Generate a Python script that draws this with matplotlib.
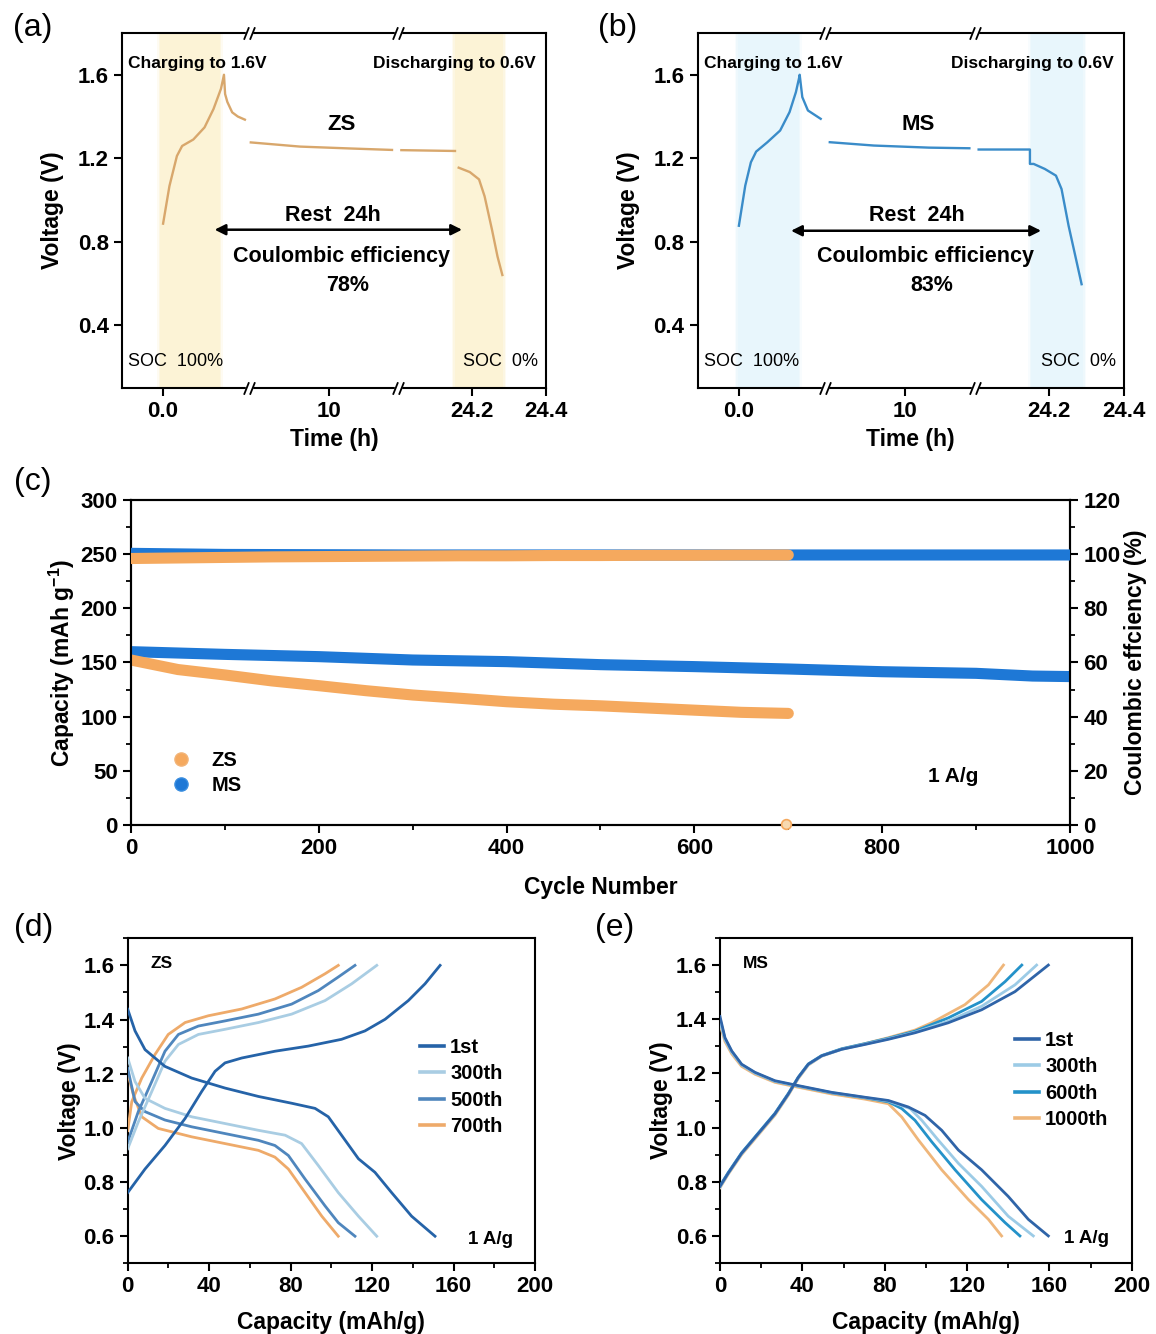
import numpy as np
import matplotlib
matplotlib.use('Agg')
import matplotlib.pyplot as plt
import matplotlib.transforms as mtransforms
from matplotlib.path import Path
from matplotlib.lines import Line2D
from matplotlib.ticker import MultipleLocator, NullLocator

plt.rcParams['font.family'] = ['Liberation Sans', 'DejaVu Sans']
plt.rcParams['font.weight'] = 'bold'
plt.rcParams['axes.labelweight'] = 'bold'
plt.rcParams['mathtext.fontset'] = 'custom'
plt.rcParams['mathtext.rm'] = 'Liberation Sans:bold'
plt.rcParams['mathtext.bf'] = 'Liberation Sans:bold'
plt.rcParams['mathtext.default'] = 'bf'

# ---------------- data: (a) ZS rest test ----------------
a_chg_t = [0, 0.017, 0.037, 0.051, 0.081, 0.111, 0.135, 0.155, 0.163, 0.166, 0.172, 0.185, 0.200, 0.219]
a_chg_v = [0.887, 1.067, 1.211, 1.259, 1.290, 1.348, 1.436, 1.533, 1.600, 1.508, 1.470, 1.420, 1.400, 1.385]
a_rest1_t = [0.45, 6.47, 14.27, 22.78]
a_rest1_v = [1.276, 1.256, 1.247, 1.240]
a_rest2_t = [24.009, 24.154]
a_rest2_v = [1.239, 1.235]
a_dis_t = [24.164, 24.194, 24.219, 24.234, 24.254, 24.269, 24.282]
a_dis_v = [1.155, 1.134, 1.099, 1.018, 0.858, 0.729, 0.641]

# ---------------- data: (b) MS rest test ----------------
b_chg_t = [0, 0.017, 0.032, 0.046, 0.076, 0.110, 0.135, 0.152, 0.161, 0.162, 0.169, 0.184, 0.218]
b_chg_v = [0.877, 1.069, 1.181, 1.232, 1.277, 1.333, 1.421, 1.517, 1.589, 1.600, 1.493, 1.429, 1.389]
b_rest1_t = [0.79, 6.15, 14.74, 22.88]
b_rest1_v = [1.277, 1.261, 1.251, 1.248]
b_dis_t = [24.010, 24.148, 24.148, 24.158, 24.188, 24.218, 24.233, 24.252, 24.272, 24.287]
b_dis_v = [1.242, 1.242, 1.173, 1.173, 1.149, 1.117, 1.053, 0.877, 0.717, 0.597]

time_ticks = [0.0, 10, 24.2, 24.4]
time_ticklabels = ['0.0', '10', '24.2', '24.4']

# ---------------- data: (c) cycling ----------------
cyc_zs = [0, 50, 100, 150, 200, 250, 300, 350, 400, 450, 500, 550, 600, 650, 700]
zs_cap = [152.3, 143.5, 138.5, 133.0, 128.6, 124.0, 120.0, 117.0, 113.8, 111.5, 110.0, 108.0, 106.0, 104.0, 103.0]
zs_ce = [98.4, 98.6, 98.8, 99.0, 99.1, 99.2, 99.3, 99.4, 99.4, 99.5, 99.5, 99.6, 99.6, 99.7, 99.7]
cyc_ms = [0, 100, 200, 300, 400, 500, 600, 700, 800, 900, 960, 1000]
ms_cap = [160.0, 157.5, 155.4, 152.3, 150.8, 148.0, 146.2, 144.0, 141.5, 140.0, 137.5, 137.0]
ms_ce = [100.3, 99.9, 99.8, 99.7, 99.7, 99.7, 99.7, 99.7, 99.7, 99.7, 99.7, 99.7]
zs_last_cyc = [698]
zs_last_ce = [0.4]

# ---------------- data: (d) ZS GCD ----------------
d_labels = ['1st', '300th', '500th', '700th']
d1_qc = [0, 8.5, 18.3, 28.2, 36.3, 42.9, 47.8, 56, 72.3, 88.7, 105, 116.5, 126.4, 137.8, 146, 153.4]
d1_vc = [0.761, 0.848, 0.935, 1.035, 1.134, 1.209, 1.240, 1.258, 1.283, 1.302, 1.327, 1.358, 1.401, 1.470, 1.532, 1.6]
d1_qd = [0, 3.6, 8.5, 18.3, 31.4, 47.8, 64.2, 80.5, 92, 98.5, 105, 113.3, 121.4, 129.6, 139.4, 150.9]
d1_vd = [1.438, 1.358, 1.289, 1.227, 1.184, 1.147, 1.116, 1.091, 1.072, 1.041, 0.973, 0.886, 0.836, 0.761, 0.674, 0.6]
d300_qc = [0, 5.2, 11.8, 18.3, 24.9, 34.7, 47.8, 64.2, 80.5, 96.9, 110, 122.3]
d300_vc = [0.923, 1.022, 1.134, 1.246, 1.308, 1.345, 1.364, 1.389, 1.420, 1.470, 1.532, 1.6]
d300_qd = [0, 3.6, 8.5, 18.3, 31.4, 47.8, 64.2, 77.3, 85.4, 93.6, 103.4, 113.3, 122.3]
d300_vd = [1.258, 1.171, 1.109, 1.072, 1.041, 1.016, 0.991, 0.973, 0.942, 0.861, 0.761, 0.674, 0.6]
d500_qc = [0, 5.2, 11.8, 18.3, 24.9, 34.7, 47.8, 64.2, 80.5, 93.6, 103.4, 111.6]
d500_vc = [0.948, 1.06, 1.171, 1.283, 1.345, 1.376, 1.395, 1.420, 1.457, 1.507, 1.557, 1.6]
d500_qd = [0, 3.6, 8.5, 18.3, 31.4, 47.8, 64.2, 72.3, 78.9, 87.1, 96.9, 103.4, 111.6]
d500_vd = [1.22, 1.097, 1.06, 1.029, 1.004, 0.979, 0.954, 0.935, 0.898, 0.811, 0.712, 0.65, 0.6]
d700_qc = [0, 2, 6.9, 13.4, 19.9, 28.2, 39.6, 56, 72.3, 85.4, 96.9, 103.4]
d700_vc = [0.99, 1.097, 1.184, 1.271, 1.345, 1.389, 1.414, 1.439, 1.476, 1.519, 1.569, 1.6]
d700_qd = [0, 2.8, 6.9, 15, 31.4, 47.8, 64.2, 72.3, 78.9, 87.1, 95.3, 103.4]
d700_vd = [1.202, 1.122, 1.041, 0.998, 0.967, 0.942, 0.917, 0.892, 0.848, 0.761, 0.674, 0.6]

# ---------------- data: (e) MS GCD ----------------
e_labels = ['1st', '300th', '600th', '1000th']
e1_qc = [0, 4, 10.5, 18.6, 26.7, 33.2, 38, 42.9, 49.4, 59.1, 70.4, 81.8, 94.7, 110.9, 127.1, 143.3, 159.5]
e1_vc = [0.783, 0.832, 0.905, 0.978, 1.051, 1.124, 1.185, 1.234, 1.265, 1.289, 1.307, 1.326, 1.35, 1.387, 1.435, 1.502, 1.6]
e1_qd = [0, 2.4, 5.7, 10.5, 17, 26.7, 38, 54.3, 70.4, 81.8, 91.5, 99.6, 107.7, 115.8, 127.1, 140, 149.8, 159.5]
e1_vd = [1.41, 1.332, 1.283, 1.234, 1.204, 1.173, 1.155, 1.130, 1.112, 1.1, 1.076, 1.045, 0.99, 0.917, 0.844, 0.746, 0.661, 0.6]
e300_qc = [0, 4, 10.5, 18.6, 26.7, 33.2, 38, 42.9, 49.4, 59.1, 70.4, 81.8, 94.7, 110.9, 127.1, 143.3, 153.8]
e300_vc = [0.78, 0.83, 0.903, 0.976, 1.049, 1.122, 1.183, 1.232, 1.264, 1.289, 1.308, 1.328, 1.352, 1.393, 1.448, 1.527, 1.6]
e300_qd = [0, 2.4, 5.7, 10.5, 17, 26.7, 38, 54.3, 70.4, 81.8, 92.4, 98, 106, 115.8, 127.1, 140, 152.2]
e300_vd = [1.39, 1.325, 1.278, 1.231, 1.201, 1.171, 1.153, 1.129, 1.111, 1.098, 1.07, 1.027, 0.954, 0.868, 0.783, 0.673, 0.6]
e600_qc = [0, 4, 10.5, 18.6, 26.7, 33.2, 38, 42.9, 49.4, 59.1, 70.4, 81.8, 94.7, 110.9, 127.1, 138.5, 146.6]
e600_vc = [0.785, 0.834, 0.907, 0.98, 1.053, 1.126, 1.186, 1.235, 1.266, 1.291, 1.31, 1.33, 1.356, 1.405, 1.466, 1.539, 1.6]
e600_qd = [0, 2.4, 5.7, 10.5, 17, 26.7, 38, 54.3, 70.4, 81.8, 88.3, 94.7, 102.8, 114.2, 127.1, 138.5, 145.7]
e600_vd = [1.40, 1.328, 1.28, 1.232, 1.202, 1.171, 1.153, 1.128, 1.11, 1.095, 1.07, 1.027, 0.948, 0.844, 0.734, 0.649, 0.6]
e1000_qc = [0, 4, 10.5, 18.6, 26.7, 33.2, 38, 42.9, 49.4, 59.1, 70.4, 81.8, 94.7, 102.8, 119, 130.4, 137.7]
e1000_vc = [0.778, 0.828, 0.9, 0.973, 1.046, 1.12, 1.181, 1.231, 1.264, 1.29, 1.31, 1.332, 1.36, 1.387, 1.454, 1.527, 1.6]
e1000_qd = [0, 2.4, 5.7, 10.5, 17, 26.7, 38, 54.3, 70.4, 81.8, 88.3, 96.4, 107.7, 120.7, 130.4, 136.8]
e1000_vd = [1.38, 1.318, 1.272, 1.226, 1.197, 1.167, 1.149, 1.124, 1.105, 1.088, 1.039, 0.954, 0.844, 0.734, 0.661, 0.6]

# ---------------- styling ----------------
ORANGE = '#f5a95e'
BLUE = '#1e78d6'
TICK_FS = 16
LABEL_FS = 16.5

# broken time axis mapping (hours -> axis fraction)
T_KNOTS = [-0.11, 0.23, 10.0, 24.0, 24.4]
U_KNOTS = [0.0, 0.2995, 0.488, 0.651, 1.0]


def t_fwd(t):
    return np.interp(np.asarray(t, dtype=float), T_KNOTS, U_KNOTS)


def t_inv(u):
    return np.interp(np.asarray(u, dtype=float), U_KNOTS, T_KNOTS)


fig = plt.figure(figsize=(11.56, 13.34), dpi=100)


def base_style(ax, right_ticks=False):
    for sp in ax.spines.values():
        sp.set_linewidth(1.5)
    ax.tick_params(which='major', direction='out', length=6, width=1.5,
                   labelsize=TICK_FS, top=False, right=right_ticks)
    ax.tick_params(which='minor', direction='out', length=3.5, width=1.3,
                   top=False, right=right_ticks)


def add_break(ax, t):
    tr = mtransforms.blended_transform_factory(ax.transData, ax.transAxes)
    slash = Path([(-2.2, -2.5), (-0.2, 2.5), (0.2, -2.5), (2.2, 2.5)],
                 [Path.MOVETO, Path.LINETO, Path.MOVETO, Path.LINETO])
    for y in (0, 1):
        ax.plot([t], [y], transform=tr, marker='s', ms=4.5, mfc='white', mec='white',
                clip_on=False, zorder=6)
        ax.plot([t], [y], transform=tr, marker=slash, ms=9, mec='k', mew=1.3,
                clip_on=False, zorder=7, ls='none')


def soft_span(ax, s0, s1, color):
    # core band plus feathered edges
    ax.axvspan(s0, s1, color=color, lw=0, zorder=0)
    for k, a in ((0.004, 0.55), (0.008, 0.3)):
        ax.axvspan(s0 - k, s0, color=color, alpha=a, lw=0, zorder=0)
        ax.axvspan(s1, s1 + k, color=color, alpha=a, lw=0, zorder=0)


def time_panel(ax, segs, color, shade, spans, name, ce_text, arrow_t, arrow_v, name_pos, rest_x):
    ax.set_xscale('function', functions=(t_fwd, t_inv))
    ax.set_xlim(T_KNOTS[0], T_KNOTS[-1])
    ax.set_ylim(0.1, 1.8)
    for (s0, s1) in spans:
        soft_span(ax, s0, s1, shade)
    for t, v in segs:
        ax.plot(t, v, color=color, lw=1.7, zorder=3)
    ax.set_xticks(time_ticks, labels=time_ticklabels)
    ax.xaxis.set_minor_locator(NullLocator())
    ax.set_yticks([0.4, 0.8, 1.2, 1.6])
    ax.yaxis.set_minor_locator(NullLocator())
    base_style(ax)
    ax.set_xlabel('Time (h)', fontsize=LABEL_FS, labelpad=4)
    ax.set_ylabel('Voltage (V)', fontsize=LABEL_FS, labelpad=10)
    for tb in (0.23, 24.0):
        add_break(ax, tb)
    tA = ax.transAxes
    ax.text(0.177, 0.915, 'Charging to 1.6V', transform=tA, ha='center', va='center', fontsize=12.5)
    ax.text(0.785, 0.915, 'Discharging to 0.6V', transform=tA, ha='center', va='center', fontsize=12.5)
    ax.text(name_pos, 0.742, name, transform=tA, ha='center', va='center', fontsize=16)
    ax.text(rest_x, 0.487, 'Rest  24h', transform=tA, ha='center', va='center', fontsize=15.5)
    ax.text(rest_x + 0.02, 0.37, 'Coulombic efficiency', transform=tA, ha='center', va='center', fontsize=15.5)
    ax.text(rest_x + 0.034, 0.29, ce_text, transform=tA, ha='center', va='center', fontsize=15.5)
    ax.text(0.015, 0.074, 'SOC  100%', transform=tA, ha='left', va='center', fontsize=13, fontweight='normal')
    ax.text(0.982, 0.074, 'SOC  0%', transform=tA, ha='right', va='center', fontsize=13, fontweight='normal')
    ax.annotate('', xy=(arrow_t[1], arrow_v), xytext=(arrow_t[0], arrow_v),
                arrowprops=dict(arrowstyle='<|-|>', lw=1.8, color='k', mutation_scale=16,
                                shrinkA=0, shrinkB=0), zorder=5)


# ---- (a)
axa = fig.add_axes([0.10554, 0.70915, 0.36678, 0.26612])
time_panel(axa,
           [(a_chg_t, a_chg_v), (a_rest1_t, a_rest1_v), (a_rest2_t, a_rest2_v), (a_dis_t, a_dis_v)],
           '#d8a76c', '#fcf3d6', [(-0.007, 0.152), (24.153, 24.285)],
           'ZS', '78%', (0.138, 24.173), 0.858, 0.519, 0.498)

# ---- (b)
axb = fig.add_axes([0.60346, 0.70915, 0.36851, 0.26612])
time_panel(axb,
           [(b_chg_t, b_chg_v), (b_rest1_t, b_rest1_v), (b_dis_t, b_dis_v)],
           '#3a8cc9', '#e8f6fc', [(-0.003, 0.160), (24.152, 24.292)],
           'MS', '83%', (0.139, 24.178), 0.853, 0.518, 0.515)

# ---- (c)
axc = fig.add_axes([0.11332, 0.38156, 0.81228, 0.24363])
axc2 = axc.twinx()
axc.plot(cyc_ms, ms_cap, color=BLUE, lw=8, solid_capstyle='round', solid_joinstyle='round', zorder=3)
axc.plot(cyc_zs, zs_cap, color=ORANGE, lw=8, solid_capstyle='round', solid_joinstyle='round', zorder=4)
axc2.plot(cyc_ms, ms_ce, color=BLUE, lw=8, solid_capstyle='round', solid_joinstyle='round', zorder=3)
axc2.plot(cyc_zs, zs_ce, color=ORANGE, lw=8, solid_capstyle='round', solid_joinstyle='round', zorder=4)
axc2.plot(zs_last_cyc, zs_last_ce, 'o', ms=7, mfc='#f7d9b0', mec=ORANGE, mew=1.2, clip_on=False, zorder=5)
axc.set_xlim(0, 1000)
axc.set_ylim(0, 300)
axc2.set_ylim(0, 120)
axc.xaxis.set_major_locator(MultipleLocator(200))
axc.xaxis.set_minor_locator(MultipleLocator(100))
axc.yaxis.set_major_locator(MultipleLocator(50))
axc.yaxis.set_minor_locator(MultipleLocator(25))
axc2.yaxis.set_major_locator(MultipleLocator(20))
axc2.yaxis.set_minor_locator(MultipleLocator(10))
base_style(axc)
base_style(axc2, right_ticks=True)
axc2.tick_params(which='both', left=False)
axc.set_xlabel('Cycle Number', fontsize=LABEL_FS, labelpad=12)
axc.set_ylabel('Capacity (mAh g$^{-1}$)', fontsize=LABEL_FS, labelpad=3)
axc2.set_ylabel('Coulombic effciency (%)', fontsize=LABEL_FS, labelpad=3)
hz = Line2D([], [], ls='none', marker='o', ms=9.5, color=ORANGE, mec='#f2b478')
hm = Line2D([], [], ls='none', marker='o', ms=9.5, color=BLUE, mec='#3a8ee0')
axc.legend([hz, hm], ['ZS', 'MS'], loc='center left', bbox_to_anchor=(0.043, 0.16),
           frameon=False, fontsize=14.5, handlelength=1.0, handletextpad=1.0,
           labelspacing=0.3, borderpad=0, borderaxespad=0)
axc.text(0.849, 0.149, '1 A/g', transform=axc.transAxes, ha='left', va='center', fontsize=15)


# ---- (d), (e)
def gcd_panel(ax, series, name, leg_anchor):
    handles = []
    n = len(series)
    for i, (lab, col, qc, vc, qd, vd) in enumerate(series):
        ax.plot(qc, vc, color=col, lw=2.0, zorder=3 + n - i)
        ax.plot(qd, vd, color=col, lw=2.0, zorder=3 + n - i)
        handles.append(Line2D([], [], color=col, lw=2.6))
    ax.set_xlim(0, 200)
    ax.set_ylim(0.5, 1.7)
    ax.xaxis.set_major_locator(MultipleLocator(40))
    ax.xaxis.set_minor_locator(MultipleLocator(20))
    ax.set_yticks([0.6, 0.8, 1.0, 1.2, 1.4, 1.6])
    ax.yaxis.set_minor_locator(MultipleLocator(0.1))
    base_style(ax)
    ax.set_xlabel('Capacity (mAh/g)', fontsize=LABEL_FS, labelpad=10)
    ax.set_ylabel('Voltage (V)', fontsize=LABEL_FS, labelpad=2)
    ax.legend(handles, [s[0] for s in series], loc='center left', bbox_to_anchor=leg_anchor,
              frameon=False, fontsize=14.5, handlelength=1.2, handletextpad=0.3,
              labelspacing=0.36, borderpad=0, borderaxespad=0)
    ax.text(0.056, 0.923, name, transform=ax.transAxes, ha='left', va='center', fontsize=12.5)
    ax.text(0.836, 0.074, '1 A/g', transform=ax.transAxes, ha='left', va='center', fontsize=13.5)


axd = fig.add_axes([0.11047, 0.05300, 0.35233, 0.24363])
gcd_panel(axd, [
    (d_labels[0], '#2563a8', d1_qc, d1_vc, d1_qd, d1_vd),
    (d_labels[1], '#a9cde3', d300_qc, d300_vc, d300_qd, d300_vd),
    (d_labels[2], '#4f86bd', d500_qc, d500_vc, d500_qd, d500_vd),
    (d_labels[3], '#eeaa6a', d700_qc, d700_vc, d700_qd, d700_vd),
], 'ZS', (0.7177, 0.5425))

axe = fig.add_axes([0.62284, 0.05322, 0.35614, 0.24363])
gcd_panel(axe, [
    (e_labels[0], '#2f64a8', e1_qc, e1_vc, e1_qd, e1_vd),
    (e_labels[1], '#9ccbe6', e300_qc, e300_vc, e300_qd, e300_vd),
    (e_labels[2], '#2492c9', e600_qc, e600_vc, e600_qd, e600_vd),
    (e_labels[3], '#efb67a', e1000_qc, e1000_vc, e1000_qd, e1000_vd),
], 'MS', (0.7165, 0.563))

# panel letters
for x, y, s in [(0.0112, 0.979, '(a)'), (0.517, 0.979, '(b)'), (0.0125, 0.6387, '(c)'),
                (0.0125, 0.3043, '(d)'), (0.5145, 0.3043, '(e)')]:
    fig.text(x, y, s, fontsize=23, fontweight='normal', ha='left', va='center')

fig.savefig('out.png', dpi=100)
